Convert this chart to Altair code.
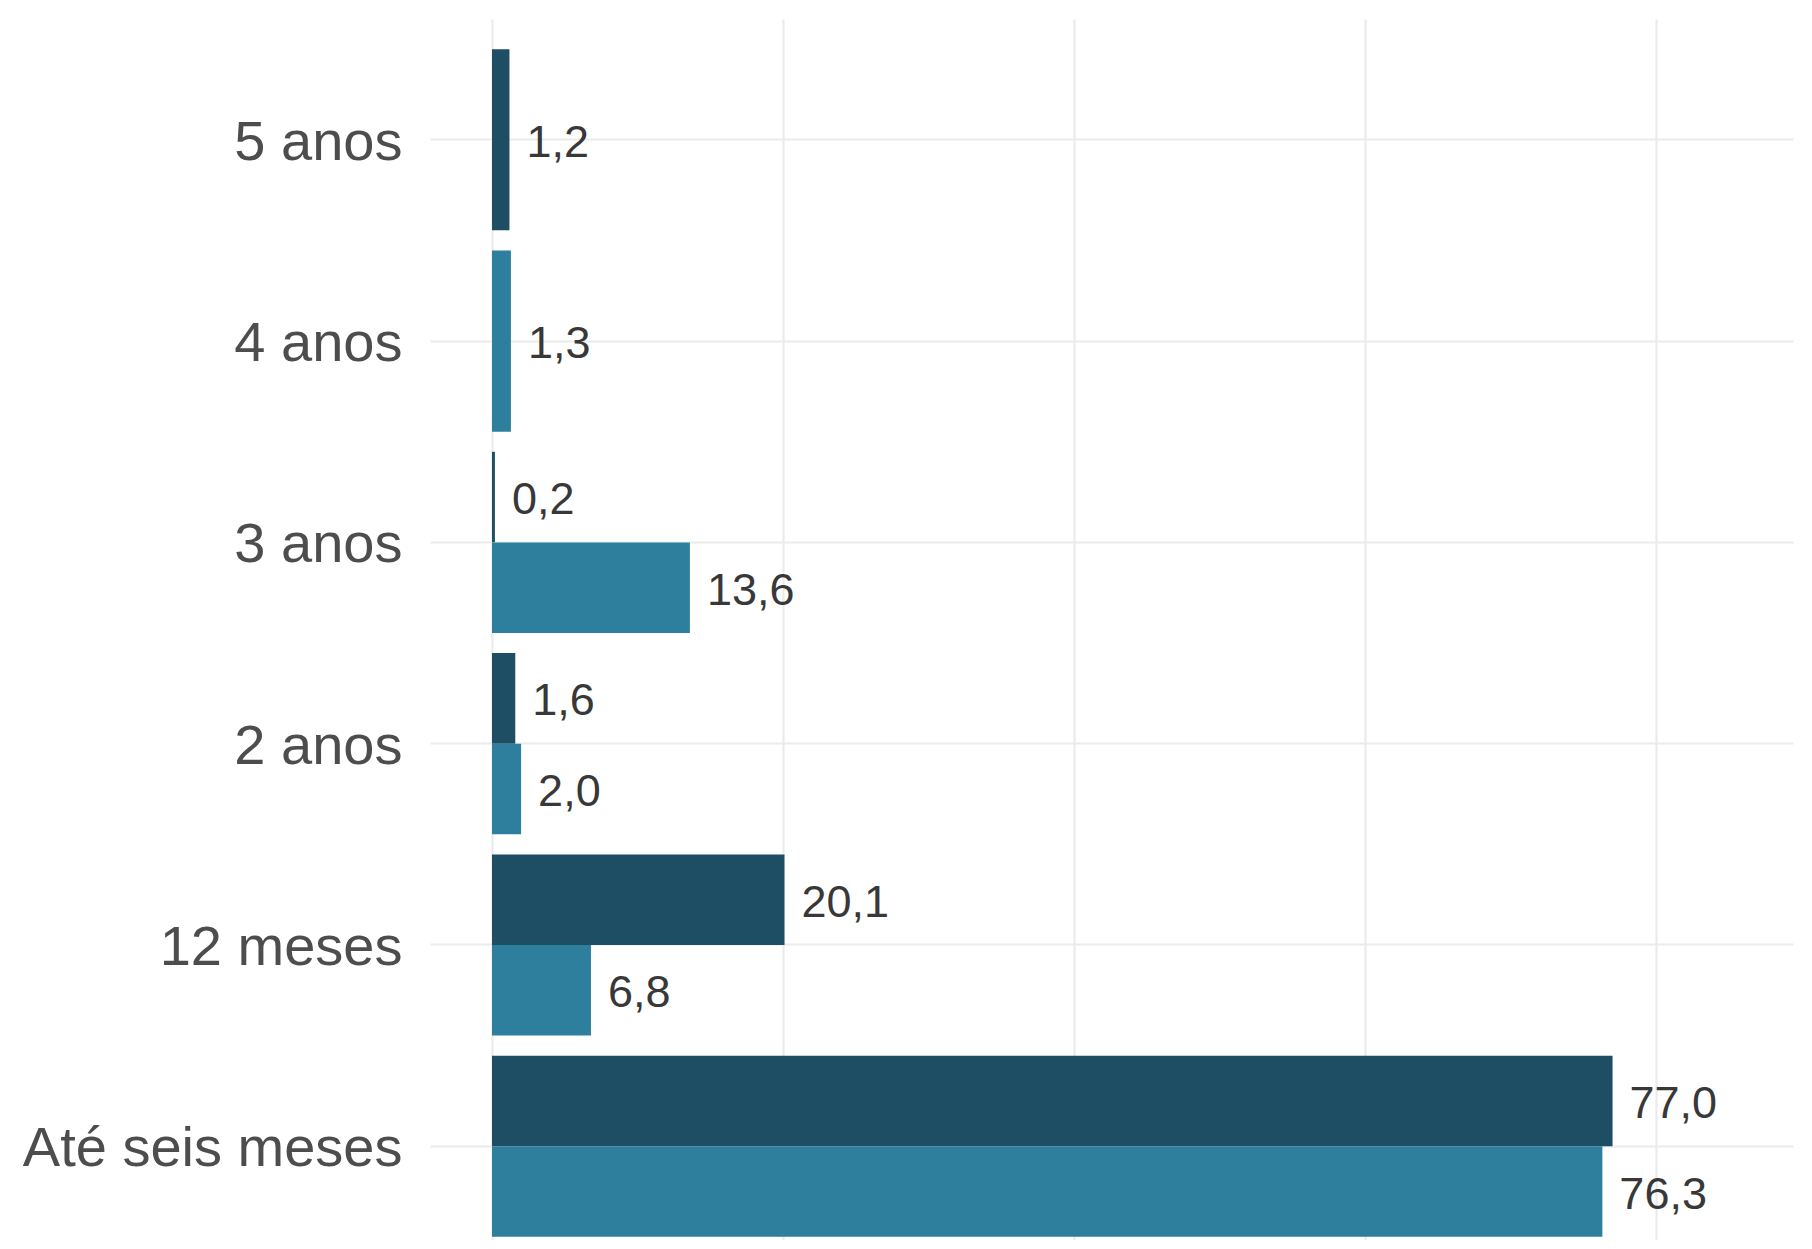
import altair as alt
import pandas as pd

categorias = ["Até seis meses", "12 meses", "2 anos", "3 anos", "4 anos", "5 anos"]
serie_escura_nome = "Grupo 1"
serie_clara_nome = "Grupo 2"
serie_escura = [77.0, 20.1, 1.6, 0.2, None, 1.2]
serie_clara = [76.3, 6.8, 2.0, 13.6, 1.3, None]
cor_escura = "#1D4E63"
cor_clara = "#2E7F9E"

rows = []
for cat, ve, vc in zip(categorias, serie_escura, serie_clara):
    if ve is not None:
        rows.append({"categoria": cat, "serie": serie_escura_nome, "valor": ve})
    if vc is not None:
        rows.append({"categoria": cat, "serie": serie_clara_nome, "valor": vc})
df = pd.DataFrame(rows)

ordem_y = list(reversed(categorias))
FONT = "Liberation Sans"

y_enc = alt.Y(
    "categoria:N",
    sort=ordem_y,
    scale=alt.Scale(paddingInner=0.1, paddingOuter=0.0828, align=0.906),
    axis=alt.Axis(
        title=None, domain=False, ticks=False, grid=True, bandPosition=0.5,
        gridColor="#EBEBEB", gridWidth=2.2, labelFontSize=56, labelColor="#4D4D4D",
        labelFont=FONT, labelPadding=28, labelLimit=1000, labelOffset=3,
        minExtent=422, maxExtent=422,
    ),
)
x_enc = alt.X(
    "valor:Q",
    scale=alt.Scale(domain=[-4.26, 89.4], nice=False, zero=False),
    axis=alt.Axis(
        title=None, values=[0, 20, 40, 60, 80], labels=False, ticks=False, domain=False,
        grid=True, gridColor="#EBEBEB", gridWidth=2.2, minExtent=0, maxExtent=0,
    ),
)
color_enc = alt.Color(
    "serie:N",
    scale=alt.Scale(domain=[serie_escura_nome, serie_clara_nome], range=[cor_escura, cor_clara]),
    legend=None,
)
yoff_enc = alt.YOffset(
    "serie:N", sort=[serie_escura_nome, serie_clara_nome], scale=alt.Scale(paddingInner=0, paddingOuter=0)
)

base = (
    alt.Chart(df)
    .transform_joinaggregate(n="count()", groupby=["categoria"])
    .transform_calculate(rotulo="replace(format(datum.valor, '.1f'), '.', ',')")
)

dois = base.transform_filter("datum.n == 2")
um = base.transform_filter("datum.n == 1")

txt = dict(align="left", baseline="middle", dx=17, dy=3, fontSize=45, font=FONT, color="#383838")

bars2 = dois.mark_bar().encode(y=y_enc, yOffset=yoff_enc, x=x_enc, x2=alt.datum(0), color=color_enc)
text2 = dois.mark_text(**txt).encode(y=y_enc, yOffset=yoff_enc, x=x_enc, text="rotulo:N")
bars1 = um.mark_bar().encode(y=y_enc, x=x_enc, x2=alt.datum(0), color=color_enc)
text1 = um.mark_text(**txt).encode(y=y_enc, x=x_enc, text="rotulo:N")

chart = (
    alt.layer(bars2, text2, bars1, text1)
    .properties(width=1363, height=1221, padding={"left": 0, "top": 11, "right": 11, "bottom": 0}, background="white")
    .configure_view(stroke=None)
)

chart.save("out.html", embed_options={"renderer": "svg", "actions": False})
